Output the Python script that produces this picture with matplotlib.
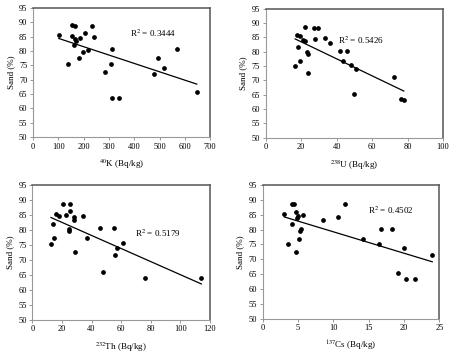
import numpy as np
import matplotlib
matplotlib.use("Agg")
import matplotlib.pyplot as plt

plt.rcParams['font.family'] = ['Liberation Serif', 'DejaVu Serif']
plt.rcParams['mathtext.fontset'] = 'stix'

# Data
k40 = [102, 153, 164, 153, 139, 166, 169, 161, 185, 182, 196, 206, 218,
       235, 242, 283, 314, 310, 312, 340, 478, 494, 519, 567, 647]
sand_k = [85.6, 88.9, 88.8, 85.1, 75.3, 84.0, 83.3, 82.2, 84.5, 77.4, 79.6,
          86.2, 80.4, 88.7, 84.7, 72.8, 80.5, 75.6, 63.5, 63.7, 71.8, 77.4,
          74.1, 80.6, 65.7]

u238 = [17.4, 19.2, 22.1, 21.1, 22.1, 18.1, 19.2, 16.6, 23.0, 23.6, 23.6,
        27.9, 27.4, 29.6, 33.4, 36.0, 41.7, 45.7, 43.8, 48.1, 50.9, 49.6,
        72.1, 76.4, 77.9]
sand_u = [85.9, 85.4, 88.4, 84.0, 83.8, 81.7, 76.9, 74.9, 79.9, 79.3, 72.4,
          84.4, 88.3, 88.3, 84.8, 83.0, 80.2, 80.2, 76.8, 75.2, 73.8, 65.4,
          71.3, 63.4, 63.1]

th232 = [12.6, 14.0, 14.4, 15.8, 18.0, 20.9, 23.0, 25.7, 25.2, 24.8, 25.0,
         27.9, 28.4, 28.6, 34.2, 36.7, 45.9, 55.0, 48.0, 56.1, 57.4, 61.3,
         75.9, 114.2]
sand_th = [75.2, 82.0, 77.2, 85.5, 84.6, 88.8, 85.0, 88.8, 86.2, 80.2, 79.6,
           83.5, 84.2, 72.8, 84.6, 77.2, 80.5, 80.5, 65.9, 71.7, 74.1, 75.7,
           63.9, 64.0]

cs137 = [3.07, 4.10, 4.39, 4.67, 4.81, 4.95, 5.71, 4.15, 5.5, 5.3, 5.09,
         3.63, 4.67, 8.49, 10.6, 11.7, 16.7, 18.35, 14.2, 16.4, 20.0, 24.0,
         19.1, 20.3, 21.5]
sand_cs = [85.3, 88.5, 88.5, 85.9, 84.0, 84.5, 84.8, 81.8, 80.2, 79.6, 76.9,
           75.0, 72.5, 83.3, 84.3, 88.5, 80.3, 80.3, 76.9, 75.3, 73.7, 71.3,
           65.4, 63.3, 63.4]

panels = [
    (k40, sand_k, r'$^{40}$K (Bq/kg)', (0, 700, 100), 'R$^2$ = 0.3444', (385, 86.0)),
    (u238, sand_u, r'$^{238}$U (Bq/kg)', (0, 100, 20), 'R$^2$ = 0.5426', (40.5, 84.0)),
    (th232, sand_th, r'$^{232}$Th (Bq/kg)', (0, 120, 20), 'R$^2$ = 0.5179', (69.4, 79.0)),
    (cs137, sand_cs, r'$^{137}$Cs (Bq/kg)', (0, 25, 5), 'R$^2$ = 0.4502', (14.9, 86.6)),
]

rects = [
    [0.073, 0.615, 0.392, 0.363],
    [0.588, 0.613, 0.392, 0.363],
    [0.0715, 0.102, 0.393, 0.378],
    [0.581, 0.105, 0.391, 0.375],
]

fig = plt.figure(figsize=(4.52, 3.56), dpi=100)

for (x, y, xlab, (x0, x1, xs), r2, r2pos), rect in zip(panels, rects):
    ax = fig.add_axes(rect)
    x = np.array(x)
    y = np.array(y)
    ax.plot(x, y, 'o', color='black', markersize=2.4, zorder=3)
    # linear trendline over the data range
    m, b = np.polyfit(x, y, 1)
    xx = np.array([x.min(), x.max()])
    ax.plot(xx, m * xx + b, color='black', linewidth=0.9)
    ax.text(r2pos[0], r2pos[1], r2, fontsize=6.5, va='center', ha='left')

    ax.set_xlim(x0, x1)
    ax.set_ylim(50, 95)
    ax.set_xticks(np.arange(x0, x1 + xs, xs))
    ax.set_yticks(np.arange(50, 96, 5))
    ax.set_xlabel(xlab, fontsize=6.5, labelpad=5)
    ax.set_ylabel('Sand (%)', fontsize=6.5, labelpad=3)
    ax.tick_params(labelsize=6, length=2, width=0.6, color='#888888', pad=2)
    for s in ['left', 'bottom']:
        ax.spines[s].set_color('#999999')
        ax.spines[s].set_linewidth(0.8)
    for s in ['top', 'right']:
        ax.spines[s].set_color('#555555')
        ax.spines[s].set_linewidth(1.1)

fig.savefig('out.png', dpi=100)
